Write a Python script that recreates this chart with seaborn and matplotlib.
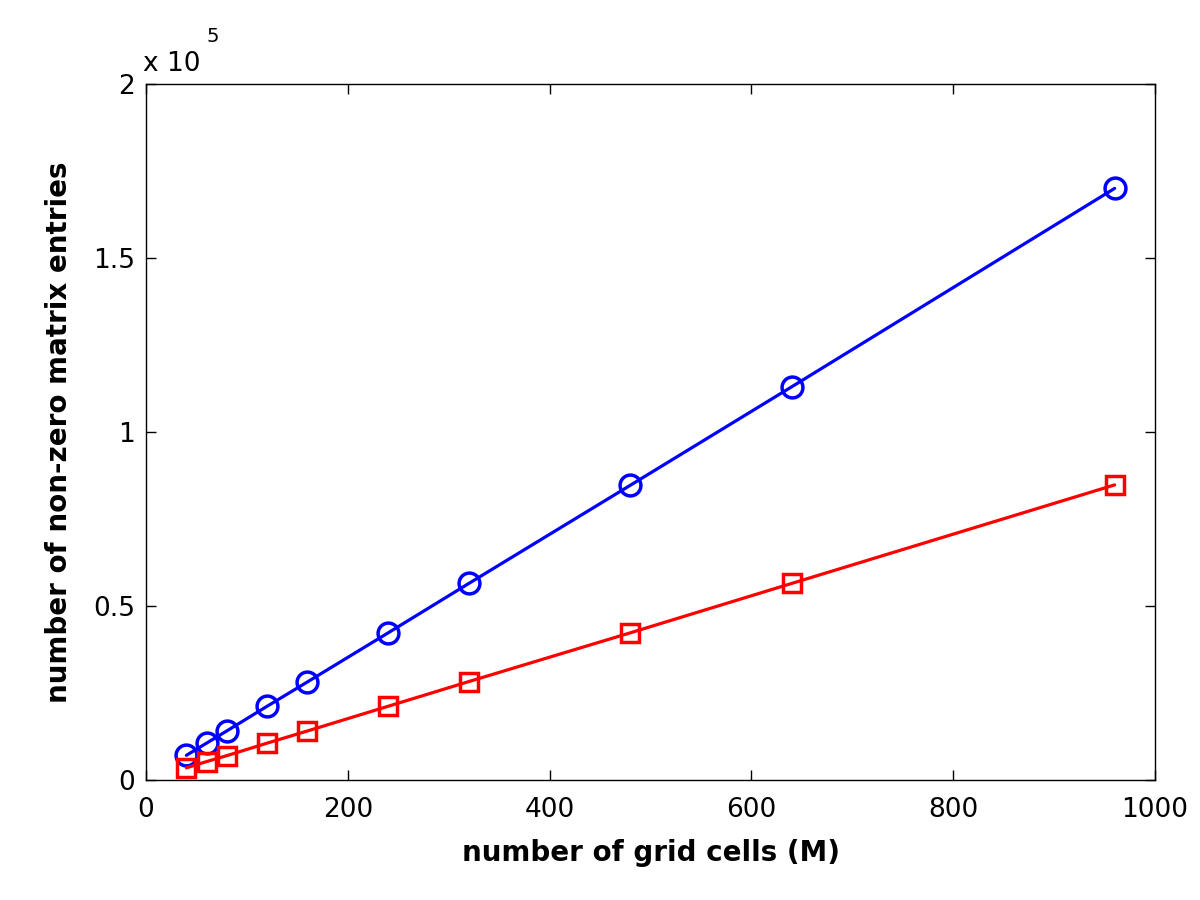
import matplotlib
matplotlib.use("Agg")
import matplotlib.pyplot as plt
import seaborn as sns
from matplotlib.ticker import FuncFormatter

# grid sizes and non-zero counts
grid_cells = [40, 60, 80, 120, 160, 240, 320, 480, 640, 960]
nnz_blue = [7100, 10600, 14100, 21200, 28200, 42300, 56500, 84700, 113000, 170000]
nnz_red = [3500, 5300, 7000, 10600, 14100, 21200, 28300, 42300, 56500, 84800]

sns.set_style("white")
plt.rcParams['font.family'] = ['DejaVu Sans']
plt.rcParams['text.color'] = 'black'
plt.rcParams['axes.labelcolor'] = 'black'

fig = plt.figure(figsize=(12, 9), dpi=100)
ax = fig.add_axes([0.1217, 0.1333, 0.8408, 0.7734])

sns.lineplot(x=grid_cells, y=nnz_blue, ax=ax, color='#0000ff', linewidth=2.3,
             marker='o', markersize=15, markerfacecolor='none',
             markeredgecolor='#0000ff', markeredgewidth=2.5)
sns.lineplot(x=grid_cells, y=nnz_red, ax=ax, color='#ff0000', linewidth=2.3,
             marker='s', markersize=13, markerfacecolor='none',
             markeredgecolor='#ff0000', markeredgewidth=2.5)

ax.set_xlim(0, 1000)
ax.set_ylim(0, 2e5)
ax.set_xticks([0, 200, 400, 600, 800, 1000])
ax.set_yticks([0, 0.5e5, 1e5, 1.5e5, 2e5])
ax.yaxis.set_major_formatter(FuncFormatter(lambda v, p: f"{v / 1e5:g}"))

for s in ax.spines.values():
    s.set_visible(True)
    s.set_color('black')
    s.set_linewidth(1.0)
ax.tick_params(direction='in', length=7, width=1, top=True, right=True,
               bottom=True, left=True, labelsize=19, colors='black')
ax.tick_params(axis='x', pad=12)
ax.tick_params(axis='y', pad=8)

ax.set_xlabel("number of grid cells (M)", fontsize=20, fontweight='bold', labelpad=12)
ax.set_ylabel("number of non-zero matrix entries", fontsize=20, fontweight='bold', labelpad=14)

ax.text(-0.003, 1.01, "x 10", transform=ax.transAxes, fontsize=19, ha='left', va='bottom')
ax.text(0.06, 1.055, "5", transform=ax.transAxes, fontsize=14, ha='left', va='bottom')

fig.savefig("out.png", dpi=100)
